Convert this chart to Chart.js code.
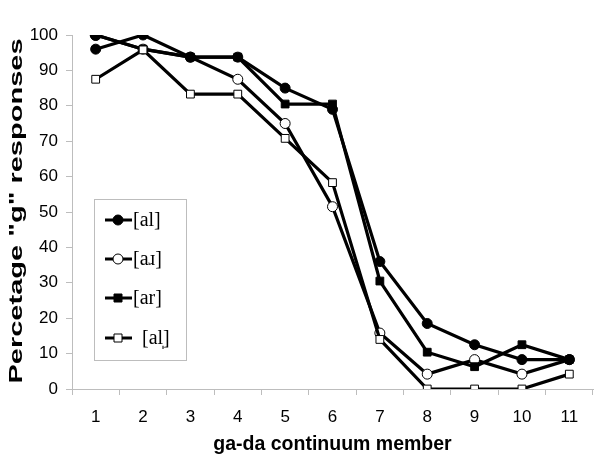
<!DOCTYPE html>
<html>
<head>
<meta charset="utf-8">
<script src="https://cdn.jsdelivr.net/npm/chart.js@4.4.0/dist/chart.umd.min.js"></script>
<style>
  body { margin: 0; background: #fff; }
  canvas { display: block; }
</style>
</head>
<body>
<canvas id="myChart" width="601" height="462"></canvas>
<script>
/* chart data */
const categories = ["1", "2", "3", "4", "5", "6", "7", "8", "9", "10", "11"];
const seriesLabels = ["[al]", "[a\u0279]", "[ar]", "[al\u0329]"];
const alValues = [96, 100, 93.75, 93.75, 85, 79, 36, 18.5, 12.5, 8.3, 8.3];
const arTurnedValues = [100, 96, 93.75, 87.5, 75, 51.5, 15.8, 4.2, 8.3, 4.2, 8.3];
const arValues = [100, 96, 93.75, 93.75, 80.5, 80.5, 30.5, 10.4, 6.3, 12.5, 8.3];
const alSyllabicValues = [87.5, 95.8, 83.3, 83.3, 70.8, 58.3, 14, 0, 0, 0, 4.2];
const yTicks = [0, 10, 20, 30, 40, 50, 60, 70, 80, 90, 100];

const axisGrey = "#bdbdbd";

// marker style per series: [style, fill, radius]
const markers = [
    ["circle", "#000", 5],
    ["circle", "#fff", 5],
    ["rect", "#000", 5.5],
    ["rect", "#fff", 5.5],
];

function makeSet(i, values, order) {
    let style = markers[i][0];
    if (i == 2) {
        // first point of [ar] shows as a dot in the original
        style = values.map((v, k) => (k == 0 ? "circle" : "rect"));
    }
    return {
        label: seriesLabels[i],
        data: values,
        borderColor: "#000",
        borderWidth: 3.2,
        pointStyle: style,
        pointRadius: markers[i][2],
        pointBackgroundColor: markers[i][1],
        pointBorderColor: "#000",
        pointBorderWidth: 1,
        tension: 0,
        order: order,
    };
}

/* legend box + rotated y title */
const extras = {
    id: "extras",
    afterDraw(chart) {
        const ctx = chart.ctx;
        ctx.save();
        // y axis title: tall, narrow lettering as in the original
        ctx.translate(17, 211);
        ctx.rotate(-Math.PI / 2);
        ctx.scale(1, 0.66);
        ctx.font = "bold 29px 'Liberation Sans', Arial, sans-serif";
        ctx.fillStyle = "#000";
        ctx.textAlign = "center";
        ctx.textBaseline = "middle";
        ctx.fillText('Percetage "g" responses', 0, 0);
        ctx.restore();

        ctx.save();
        ctx.fillStyle = "#fff";
        ctx.strokeStyle = axisGrey;
        ctx.lineWidth = 1;
        ctx.fillRect(94.5, 199.5, 92, 161);
        ctx.strokeRect(94.5, 199.5, 92, 161);
        const rows = [220, 259, 298, 338];
        for (let i = 0; i < 4; i++) {
            const y = rows[i];
            ctx.strokeStyle = "#000";
            ctx.lineWidth = 3;
            ctx.beginPath();
            ctx.moveTo(105, y);
            ctx.lineTo(132, y);
            ctx.stroke();
            ctx.lineWidth = 1;
            ctx.fillStyle = markers[i][1];
            ctx.beginPath();
            if (markers[i][0] == "circle") {
                ctx.arc(118, y, 5, 0, Math.PI * 2);
            } else {
                ctx.rect(114, y - 4, 8, 8);
            }
            ctx.fill();
            ctx.stroke();
            ctx.fillStyle = "#000";
            ctx.font = "20px 'Liberation Serif', 'Times New Roman', serif";
            ctx.textAlign = "left";
            ctx.textBaseline = "middle";
            ctx.fillText(seriesLabels[i], i == 3 ? 142 : 133, y + 1);
        }
        ctx.restore();
    },
};

const config = {
    type: "line",
    data: {
        labels: categories,
        datasets: [
            makeSet(0, alValues, 2),
            makeSet(1, arTurnedValues, 3),
            makeSet(2, arValues, 1),
            makeSet(3, alSyllabicValues, 0),
        ],
    },
    options: {
        responsive: false,
        animation: false,
        layout: { padding: { top: 35, right: 8, left: 0, bottom: 0 } },
        plugins: {
            legend: { display: false },
            tooltip: { enabled: false },
        },
        scales: {
            x: {
                offset: true,
                afterFit: (s) => { s.height = 73; },
                grid: {
                    offset: true,
                    drawOnChartArea: false,
                    tickLength: 6,
                    color: axisGrey,
                },
                border: { color: axisGrey, width: 1 },
                ticks: {
                    color: "#000",
                    padding: 12,
                    maxRotation: 0,
                    font: { size: 17, family: "'Liberation Sans', Arial, sans-serif" },
                },
                title: {
                    display: true,
                    text: "ga-da continuum member",
                    color: "#000",
                    font: { size: 19.5, weight: "bold", family: "'Liberation Sans', Arial, sans-serif" },
                    padding: { top: 0, bottom: 6 },
                },
            },
            y: {
                min: 0,
                max: 100,
                afterFit: (s) => { s.width = 72; },
                afterBuildTicks: (s) => { s.ticks = yTicks.map((v) => ({ value: v })); },
                grid: {
                    drawOnChartArea: false,
                    tickLength: 6,
                    color: axisGrey,
                },
                border: { color: axisGrey, width: 1 },
                ticks: {
                    color: "#000",
                    padding: 8,
                    font: { size: 17, family: "'Liberation Sans', Arial, sans-serif" },
                },
            },
        },
    },
    plugins: [extras],
};

const myChart = new Chart(document.getElementById("myChart"), config);
</script>
</body>
</html>
